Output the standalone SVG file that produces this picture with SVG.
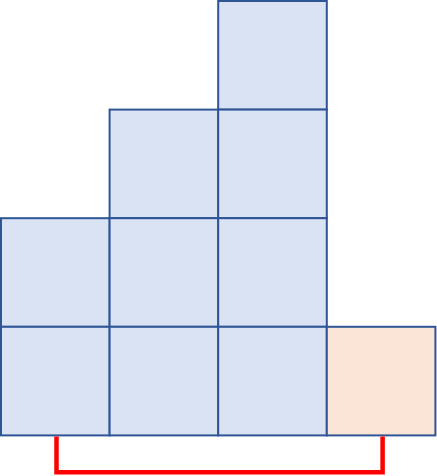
<svg xmlns="http://www.w3.org/2000/svg" width="437" height="476" viewBox="0 0 437 476">
<style>
.b{fill:#DAE3F3;stroke:#2F5597;stroke-width:2}
.p{fill:#FBE5D6;stroke:#2F5597;stroke-width:2}
.r{fill:none;stroke:#FF0000;stroke-width:4.5}
</style>
<g id="col1"><rect class="b" x="1" y="218.2" width="108.6" height="108.6"/><rect class="b" x="1" y="326.8" width="108.6" height="108.6"/></g>
<g id="col2"><rect class="b" x="109.6" y="109.6" width="108.6" height="108.6"/><rect class="b" x="109.6" y="218.2" width="108.6" height="108.6"/><rect class="b" x="109.6" y="326.8" width="108.6" height="108.6"/></g>
<g id="col3"><rect class="b" x="218.2" y="1" width="108.6" height="108.6"/><rect class="b" x="218.2" y="109.6" width="108.6" height="108.6"/><rect class="b" x="218.2" y="218.2" width="108.6" height="108.6"/><rect class="b" x="218.2" y="326.8" width="108.6" height="108.6"/></g>
<g id="col4"><rect class="p" x="326.8" y="326.8" width="108.6" height="108.6"/></g>
<g id="connectors"><path class="r" d="M56.5 436.4 V472.3 H382.6 V436.4"/></g>
</svg>
